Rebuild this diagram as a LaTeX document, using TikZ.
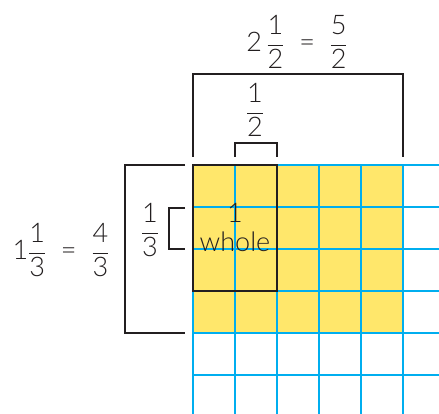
\documentclass[tikz,border=0pt]{standalone}
\usepackage{fontspec}
\setmainfont{Lato}[UprightFont=* Light]
\newcommand\fr[2]{$\displaystyle\frac{\mbox{#1}}{\mbox{#2}}$}
\definecolor{gridblue}{HTML}{00AEEF}
\definecolor{fillyellow}{HTML}{FFE76B}
\definecolor{ink}{HTML}{231F20}
\tikzset{
  bracket/.style={draw=ink,line width=2.6pt},
  gridline/.style={draw=gridblue,line width=2.4pt},
  lbl/.style={inner sep=0pt,font=\fontsize{27}{29}\selectfont,text=ink,align=center}
}
\begin{document}
\begin{tikzpicture}[x=1pt,y=-1pt]
\useasboundingbox (0,0) rectangle (439,414);
% yellow fill
\fill[fillyellow] (193,165) rectangle (403,333);
% grid
\foreach \x in {193,235,277,319,361,403}
  \draw[gridline] (\x,165) -- (\x,416);
\draw[gridline] (441,165) -- (441,416);
\foreach \y in {165,207,249,291,333,375}
  \draw[gridline] (193,\y) -- (441,\y);
% one whole rectangle
\draw[bracket] (193,165) rectangle (277,291);
% top brackets
\draw[bracket] (193,157) -- (193,74) -- (403,74) -- (403,157);
\draw[bracket] (235,157) -- (235,143) -- (277,143) -- (277,157);
% left brackets
\draw[bracket] (185,165) -- (125,165) -- (125,333) -- (185,333);
\draw[bracket] (185,208) -- (169,208) -- (169,249) -- (185,249);
% labels
\node[lbl] (top) at (297,42) {2\,\fr{1}{2} \ = \ \fr{5}{2}};
\node[lbl] (half) at (255,110) {\fr{1}{2}};
\node[lbl] (left) at (61,250) {1\fr{1}{3} \ = \ \fr{4}{3}};
\node[lbl] (third) at (150,230) {\fr{1}{3}};
\node[lbl] (whole) at (235,227) {1\\whole};
\end{tikzpicture}
\end{document}
